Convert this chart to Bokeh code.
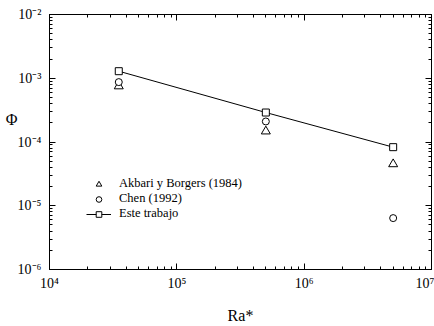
from bokeh.plotting import figure
from bokeh.models import (LogAxis, FixedTicker, CustomJSTickFormatter, Legend,
                          LegendItem, Range1d)
from bokeh.embed import file_html
from bokeh.resources import INLINE

# ---- data ----
ra_akbari = [3.5e4, 5.0e5, 5.0e6]
phi_akbari = [7.5e-4, 1.47e-4, 4.5e-5]
ra_chen = [3.5e4, 5.0e5, 5.0e6]
phi_chen = [8.7e-4, 2.1e-4, 6.4e-6]
ra_este = [3.5e4, 5.0e5, 5.0e6]
phi_este = [1.29e-3, 2.9e-4, 8.3e-5]

x_major = [1e4, 1e5, 1e6, 1e7]
y_major = [1e-6, 1e-5, 1e-4, 1e-3, 1e-2]
x_minor = [m * 10.0 ** k for k in range(4, 7) for m in range(2, 10)]
y_minor = [m * 10.0 ** k for k in range(-6, -2) for m in range(2, 10)]

labels = ["Akbari y Borgers (1984)", "Chen (1992)", "Este trabajo"]
x_title = "Ra*"
y_title = "Φ"
y_title_at = [10 ** -3.65]   # vertical position of the Φ title

FONT = "Liberation Serif"

p = figure(width=434, height=326, x_axis_type="log", y_axis_type="log",
           x_range=Range1d(1e4, 1e7), y_range=Range1d(1e-6, 1e-2),
           output_backend="svg", toolbar_location=None,
           min_border_left=49, min_border_top=14, min_border_right=3,
           min_border_bottom=56)
p.xgrid.visible = False
p.ygrid.visible = False
p.outline_line_color = "black"
p.outline_line_width = 1
p.background_fill_color = "white"
p.border_fill_color = "white"

sup_code = """
const e = Math.round(Math.log10(tick));
const sup = {'-':'\u207b','0':'\u2070','1':'\u00b9','2':'\u00b2','3':'\u00b3',
             '4':'\u2074','5':'\u2075','6':'\u2076','7':'\u2077','8':'\u2078','9':'\u2079'};
return '10' + String(e).split('').map(c => sup[c]).join('');
"""
fmt = CustomJSTickFormatter(code=sup_code)
blank = CustomJSTickFormatter(code="return '';")

def style(ax, major, minor, formatter, show):
    ax.ticker = FixedTicker(ticks=major, minor_ticks=minor)
    ax.formatter = formatter
    ax.axis_line_color = "black"
    ax.major_tick_line_color = "black"
    ax.minor_tick_line_color = "black"
    ax.major_tick_in = 6
    ax.major_tick_out = 0
    ax.minor_tick_in = 3
    ax.minor_tick_out = 0
    ax.major_label_text_font = FONT
    ax.major_label_text_font_size = "14px"
    ax.major_label_text_color = "black"
    ax.axis_label_text_font = FONT
    ax.axis_label_text_font_style = "normal"
    ax.axis_label_text_font_size = "16px"
    ax.axis_label_text_color = "black"
    if not show:
        ax.major_label_standoff = 0
        ax.major_label_text_font_size = "0px"

xa = p.xaxis[0]
ya = p.yaxis[0]
style(xa, x_major, x_minor, fmt, True)
style(ya, y_major, y_minor, fmt, True)
xa.major_label_standoff = 6
xa.axis_label = x_title
xa.axis_label_standoff = 13
ya.major_label_standoff = 8

# y title (horizontal "Φ") drawn as a label of an extra, line-less left axis
ytitle_axis = LogAxis(ticker=FixedTicker(ticks=y_title_at, minor_ticks=[]),
                      formatter=CustomJSTickFormatter(code="return '%s';" % y_title))
ytitle_axis.axis_line_color = None
ytitle_axis.major_tick_line_color = None
ytitle_axis.minor_tick_line_color = None
ytitle_axis.major_tick_in = 0
ytitle_axis.major_tick_out = 0
ytitle_axis.major_label_standoff = -3
ytitle_axis.major_label_text_font = FONT
ytitle_axis.major_label_text_font_size = "16px"
ytitle_axis.major_label_text_color = "black"
p.add_layout(ytitle_axis, "left")

top = LogAxis()
style(top, x_major, x_minor, blank, False)
p.add_layout(top, "above")
right = LogAxis()
style(right, y_major, y_minor, blank, False)
p.add_layout(right, "right")

r_ak = p.scatter(ra_akbari, phi_akbari, marker="triangle", size=9,
                 fill_color="white", line_color="black", line_width=1)
r_ch = p.scatter(ra_chen, phi_chen, marker="circle", size=7,
                 fill_color="white", line_color="black", line_width=1)
r_line = p.line(ra_este, phi_este, line_color="black", line_width=1)
r_sq = p.scatter(ra_este, phi_este, marker="square", size=7,
                 fill_color="white", line_color="black", line_width=1)

legend = Legend(items=[LegendItem(label=labels[0], renderers=[r_ak]),
                       LegendItem(label=labels[1], renderers=[r_ch]),
                       LegendItem(label=labels[2], renderers=[r_line, r_sq])],
                location=(37, 48))
legend.border_line_color = None
legend.background_fill_alpha = 0
legend.label_text_font = FONT
legend.label_text_font_size = "12.5px"
legend.label_text_color = "black"
legend.glyph_width = 25
legend.glyph_height = 14
legend.label_height = 14
legend.spacing = 0
legend.padding = 0
legend.margin = 0
legend.label_standoff = 8
p.add_layout(legend)

open("out.html", "w").write(file_html(p, INLINE))
